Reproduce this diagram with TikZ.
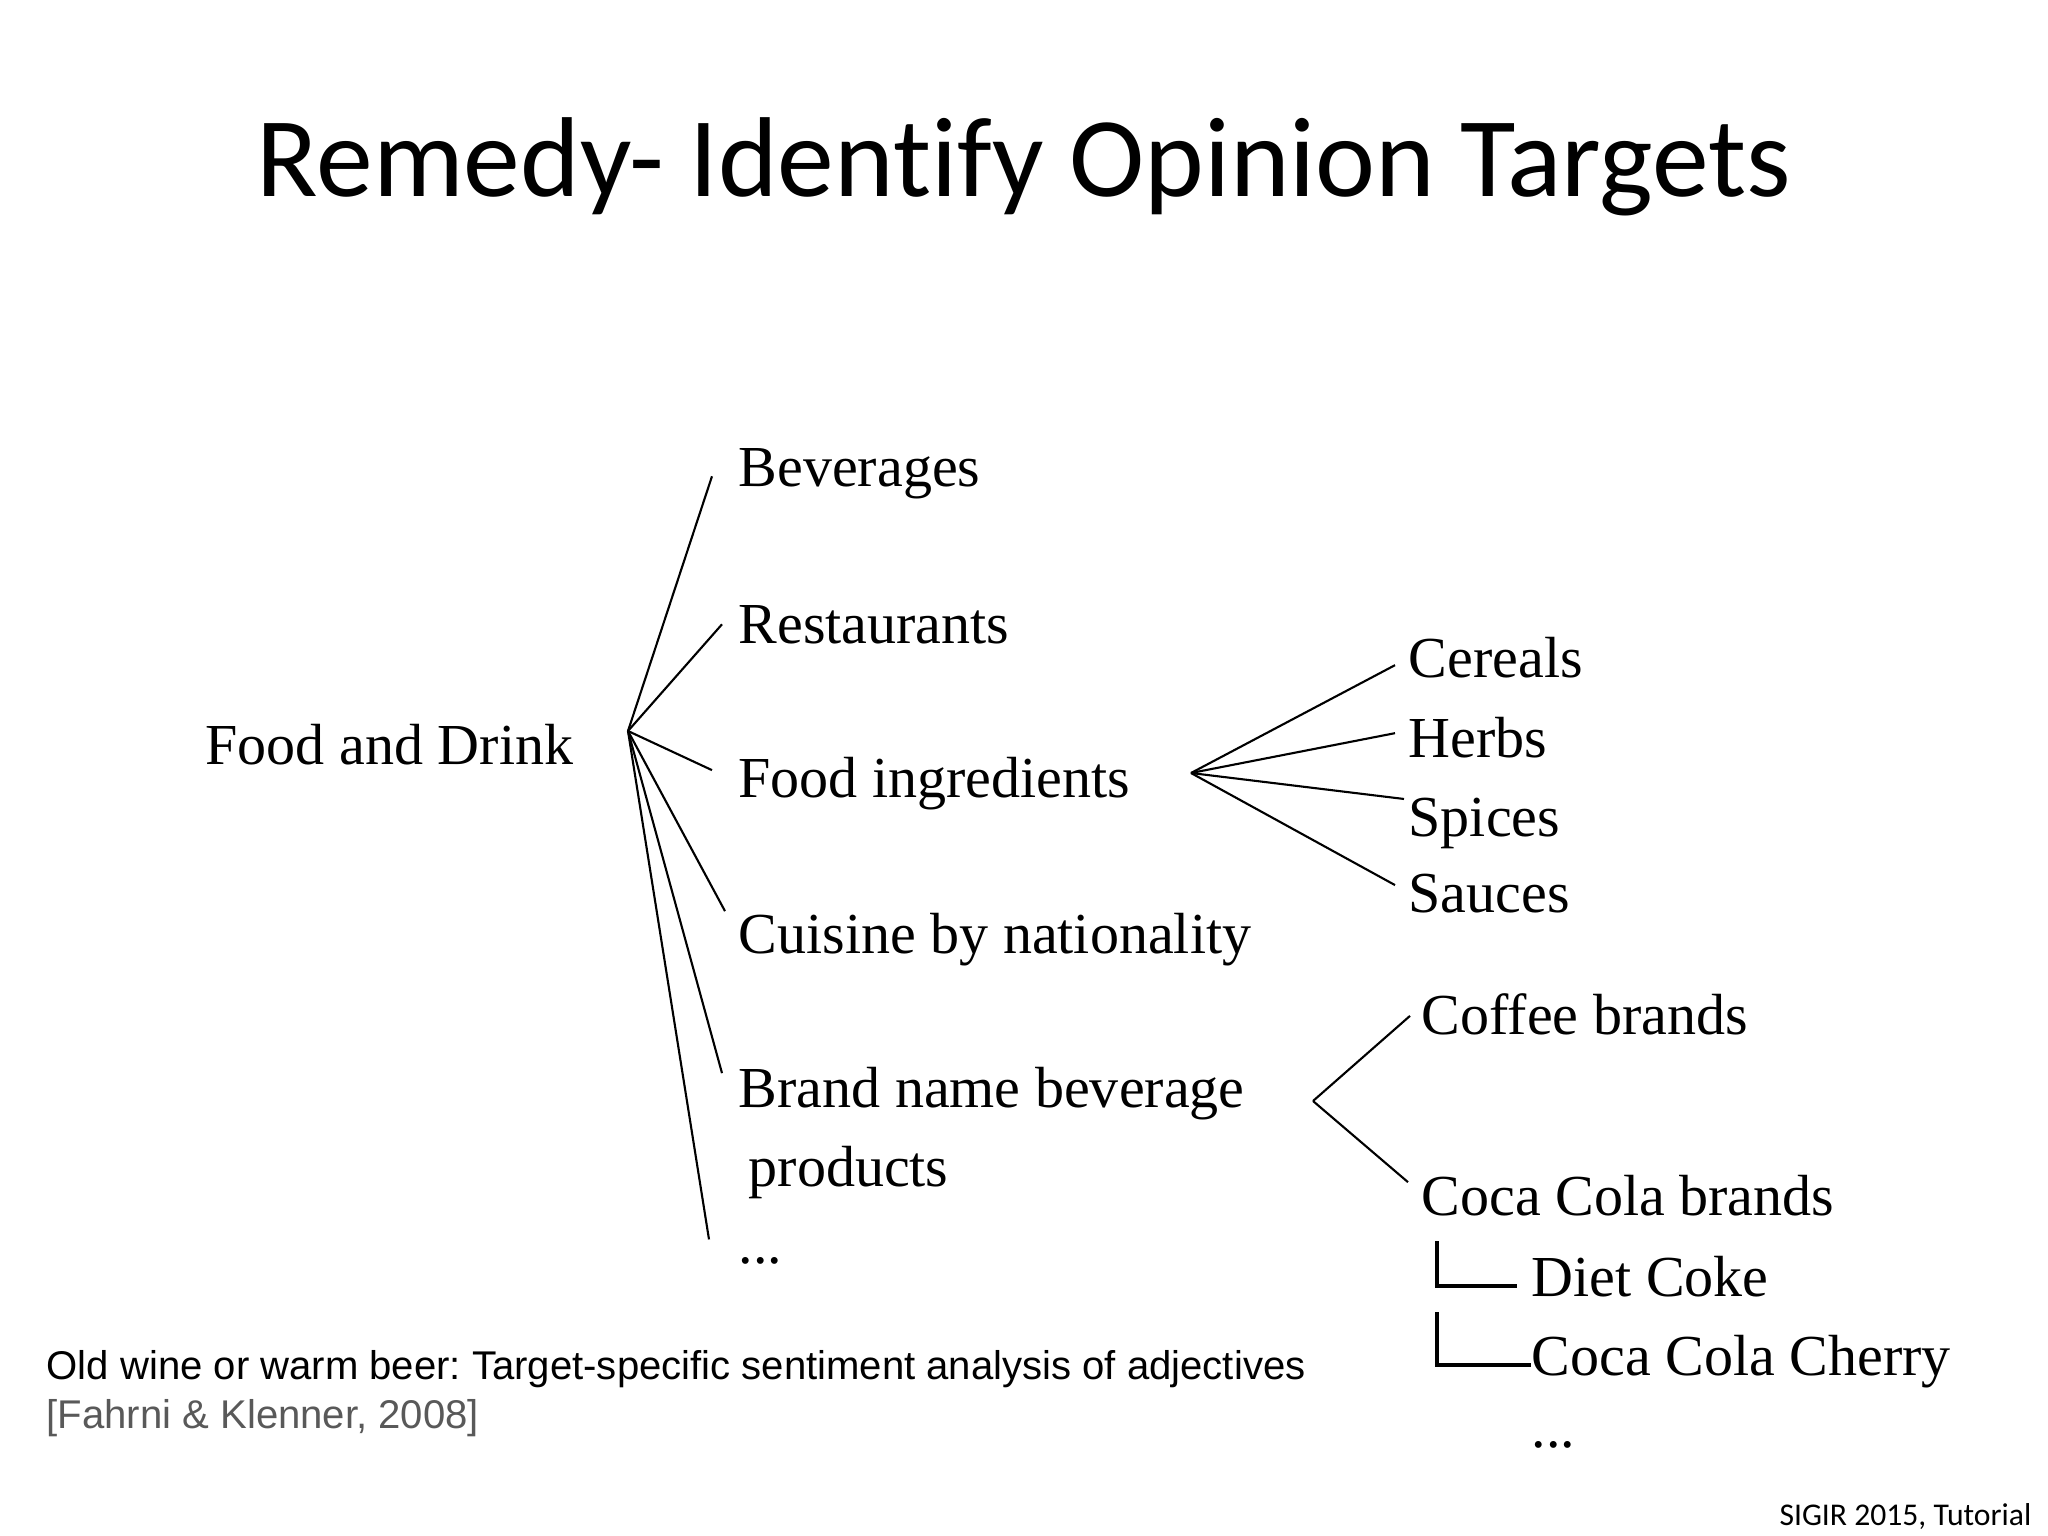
\documentclass[tikz,border=0pt]{standalone}
\usepackage{fontspec}
\setmainfont{Liberation Serif}
\newfontfamily\slidefont[Ligatures=NoCommon]{Carlito}
\newfontfamily\notefont{Liberation Sans}
\usetikzlibrary{calc}
\definecolor{citegray}{RGB}{89,89,89}
\frenchspacing

\begin{document}
\begin{tikzpicture}[x=0.01cm,y=-0.01cm,
        term/.style={anchor=base west,inner sep=0pt,font=\fontsize{16.5}{20}\selectfont},
        branch/.style={line width=0.6pt},
        elbow/.style={line width=0.9pt}]
    \useasboundingbox (0,0) rectangle (2048,1536);
    \node[anchor=base,inner sep=0pt,font=\slidefont\fontsize{32.3}{38}\selectfont] (title) at (1024,196) {Remedy- Identify Opinion Targets};

    % first level
    \node[term] (food) at (205,764) {Food and Drink};
    \coordinate (fd) at (628,731);
    \node[term] (bev) at (738,486) {Beverages};
    \node[term] (rest) at (738,643) {Restaurants};
    \node[term] (ingr) at (738,797) {Food ingredients};
    \node[term] (cuis) at (738,953) {Cuisine by nationality};
    \node[term] (brand) at (738,1107) {Brand name beverage};
    \node[term] (prod) at (748,1186) {products};
    \node[term] (more) at (738,1263) {...};
    \draw[branch] (fd) -- ($(bev.west)+(-26,3)$);
    \draw[branch] (fd) -- ($(rest.west)+(-16,0)$);
    \draw[branch] (fd) -- ($(ingr.west)+(-26,-13)$);
    \draw[branch] (fd) -- ($(cuis.west)+(-13,-28)$);
    \draw[branch] (fd) -- ($(brand.west)+(-16,-20)$);
    \draw[branch] (fd) -- ($(more.west)+(-29,-21)$);

    % food ingredients
    \coordinate (fi) at (1191,773);
    \node[term] (cer) at (1408,677) {Cereals};
    \node[term] (herb) at (1408,757) {Herbs};
    \node[term] (spice) at (1408,836) {Spices};
    \node[term] (sauce) at (1408,912) {Sauces};
    \draw[branch] (fi) -- ($(cer.west)+(-13,8)$);
    \draw[branch] (fi) -- ($(herb.west)+(-13,-4)$);
    \draw[branch] (fi) -- ($(spice.west)+(-4,-24)$);
    \draw[branch] (fi) -- ($(sauce.west)+(-13,-8)$);

    % brand names
    \coordinate (bn) at (1313,1101);
    \node[term] (coffee) at (1421,1034) {Coffee brands};
    \node[term] (cbr) at (1421,1215) {Coca Cola brands};
    \node[term] (diet) at (1531,1296) {Diet Coke};
    \node[term] (cherry) at (1531,1375) {Coca Cola Cherry};
    \node[term] (more2) at (1531,1447) {...};
    \draw[branch] (bn) -- ($(coffee.west)+(-11,2)$);
    \draw[branch] (bn) -- ($(cbr.west)+(-13,-13)$);
    \draw[elbow] ($(cbr.base west)+(16,26)$) |- ($(diet.base west)+(-14,-10)$);
    \draw[elbow] ($(diet.base west)+(-94,16)$) |- ($(cherry.base west)+(0,-10)$);

    % source
    \node[anchor=base west,inner sep=0pt,font=\notefont\fontsize{11.4}{14}\selectfont] (paper) at (46,1379) {Old wine or warm beer: Target-specific sentiment analysis of adjectives};
    \node[anchor=base west,inner sep=0pt,text=citegray,font=\notefont\fontsize{11.4}{14}\selectfont] (cite) at (46,1428) {[Fahrni \& Klenner, 2008]};
    \node[anchor=base east,inner sep=0pt,font=\slidefont\fontsize{9}{11}\selectfont] (venue) at (2032,1525) {SIGIR 2015, Tutorial};
\end{tikzpicture}
\end{document}
